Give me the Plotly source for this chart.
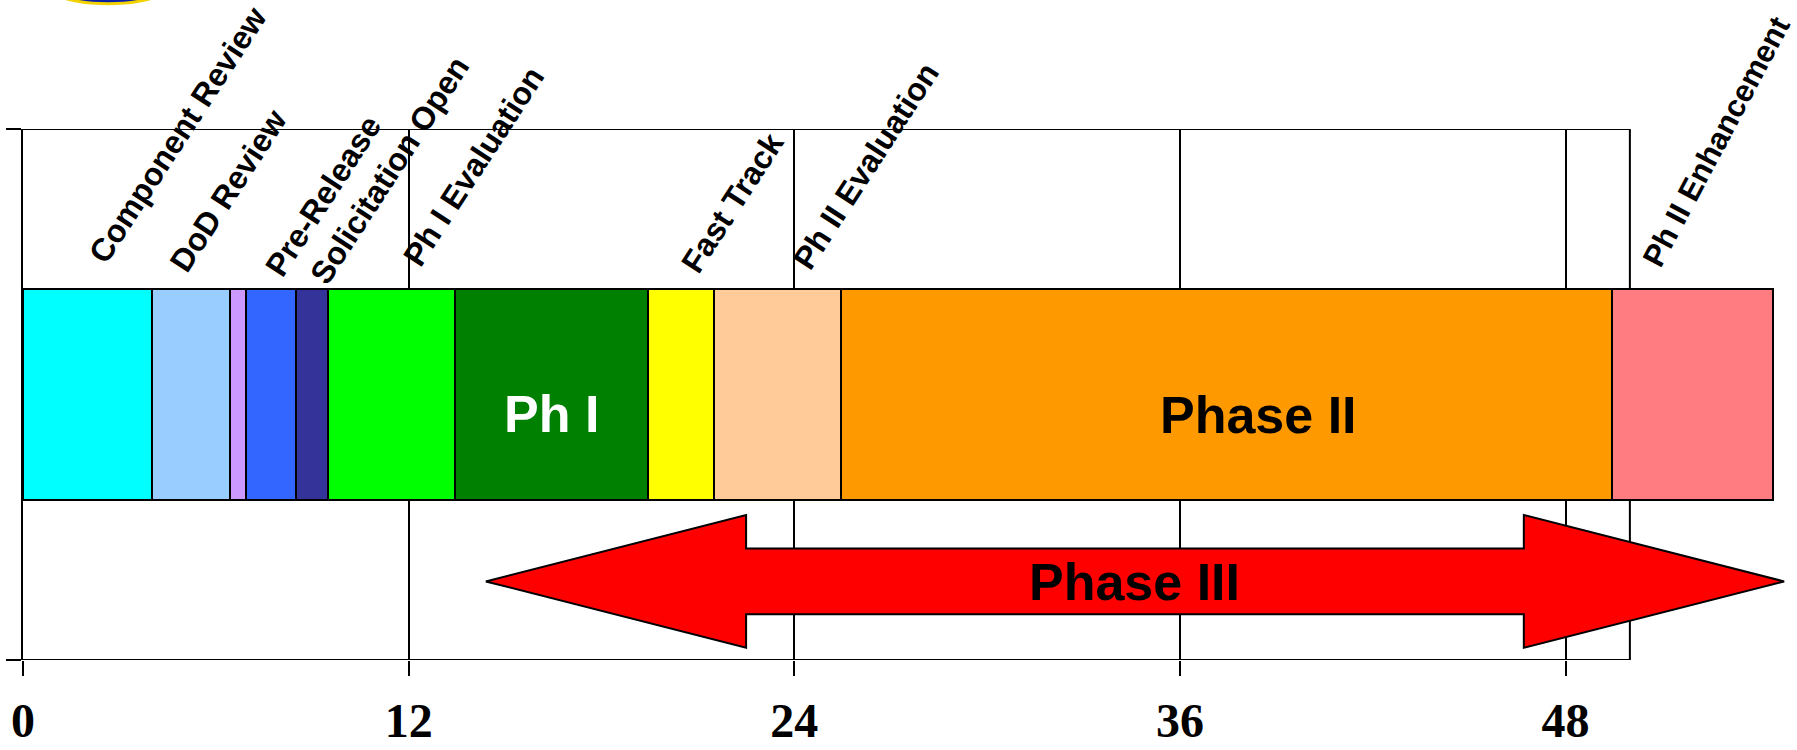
import plotly.graph_objects as go

# ---- data (months) ----
segment_names = ["Component Review", "DoD Review", "Gap", "Pre-Release",
                 "Solicitation Open", "Ph I Evaluation", "Ph I", "Fast Track",
                 "Ph II Evaluation", "Phase II", "Ph II Enhancement"]
segment_bounds = [0, 4.0, 6.45, 6.95, 8.5, 9.5, 13.45, 19.45, 21.5, 25.45, 49.45, 54.45]
segment_colors = ["#00FFFF", "#99CCFF", "#CC99FF", "#3366FF", "#333399", "#00FF00",
                  "#008000", "#FFFF00", "#FFCC99", "#FF9900", "#FF7C80"]

milestone_labels = ["Component Review", "DoD Review",
                    "Pre-Release<br>\u00a0\u00a0Solicitation Open",
                    "Ph I Evaluation", "Fast Track", "Ph II Evaluation", "Ph II Enhancement"]

phase3_span = [14.4, 54.8]
timeline_end = 50
tick_vals = [0, 12, 24, 36, 48]
tick_text = ["0", "12", "24", "36", "48"]

# ---- layout helpers (positions / styles) ----
milestone_x = [4.81, 6.38, 10.73, 14.03, 22.09, 26.23, 52.7]
milestone_y = [0.989, 0.883, 0.930, 0.930, 0.862, 0.930, 0.976]
milestone_angle = [-57, -57, -57, -57, -57, -57, -62]
milestone_size = [32, 32, 32, 32, 32, 32, 31]

bar_center, bar_width = 0.5, 0.398
arrow_c, arrow_head_h, arrow_shaft_h, arrow_head_len = 0.148, 0.125, 0.062, 8.1
x_view_max = 55.2

fig = go.Figure()

# bar segments
starts = segment_bounds[:-1]
lengths = [segment_bounds[i + 1] - segment_bounds[i] for i in range(len(starts))]
fig.add_trace(go.Bar(
    y=[bar_center] * len(starts), x=lengths, base=starts, orientation="h",
    width=bar_width, marker=dict(color=segment_colors, line=dict(color="black", width=2)),
    text=segment_names, textposition="none", hoverinfo="text",
    showlegend=False))

# Phase III double arrow
a, b = phase3_span
h = arrow_head_len
c, H, s = arrow_c, arrow_head_h, arrow_shaft_h
ax = [a, a + h, a + h, b - h, b - h, b, b - h, b - h, a + h, a + h, a]
ay = [c, c + H, c + s, c + s, c + H, c, c - H, c - s, c - s, c - H, c]
fig.add_trace(go.Scatter(x=ax, y=ay, mode="lines", fill="toself", fillcolor="#FF0000",
                         line=dict(color="black", width=2),
                         hoverinfo="skip", showlegend=False))

annos = []
for lab, x, y, ang, sz in zip(milestone_labels, milestone_x, milestone_y,
                              milestone_angle, milestone_size):
    annos.append(dict(x=x, y=y, xref="x", yref="y", text=lab, showarrow=False,
                      textangle=ang, xanchor="center", yanchor="middle", align="left",
                      font=dict(family="Liberation Sans, Arial, sans-serif", size=sz,
                                color="black", weight="bold")))

inner = [("Ph I", 16.45, 0.463, "white"), ("Phase II", 38.45, 0.461, "black"),
         ("Phase III", 34.57, 0.146, "black")]
for t, x, y, col in inner:
    annos.append(dict(x=x, y=y, xref="x", yref="y", text=t, showarrow=False,
                      xanchor="center", yanchor="middle",
                      font=dict(family="Liberation Sans, Arial, sans-serif", size=52,
                                color=col, weight="bold")))

# plot frame ending at the timeline end (month 50)
frame = [
    dict(type="line", xref="x", yref="y", x0=0, x1=timeline_end, y0=0, y1=0),
    dict(type="line", xref="x", yref="y", x0=0, x1=timeline_end, y0=1, y1=1),
    dict(type="line", xref="x", yref="y", x0=timeline_end, x1=timeline_end, y0=0, y1=1),
]
shapes = [dict(**f, line=dict(color="black", width=2), layer="below") for f in frame]
# sliver of the logo at the top-left corner
shapes.append(dict(type="circle", xref="paper", yref="paper",
                   x0=0.012, x1=0.084, y0=1.236, y1=1.3113,
                   fillcolor="#0A1FA8", line=dict(color="#F2D200", width=3), layer="below"))

fig.update_layout(
    width=1797, height=750,
    margin=dict(l=23, r=0, t=129, b=90, autoexpand=False),
    paper_bgcolor="white", plot_bgcolor="white",
    annotations=annos, shapes=shapes,
    bargap=0,
)
fig.update_xaxes(range=[0, x_view_max], tickvals=tick_vals, ticktext=tick_text,
                 ticks="outside", ticklen=15, tickwidth=2, tickcolor="black",
                 showline=False, showgrid=True, gridcolor="black", gridwidth=1.5,
                 zeroline=False, layer="below traces", ticklabelstandoff=3,
                 automargin=False,
                 tickfont=dict(family="Liberation Serif, Times New Roman, serif", size=48,
                               color="black", weight="bold"))
fig.update_yaxes(range=[0, 1], tickvals=[0, 1], ticks="outside", ticklen=15, tickwidth=2,
                 tickcolor="black", showticklabels=False, showline=True, linecolor="black",
                 linewidth=2, mirror=False, showgrid=False, zeroline=False,
                 layer="below traces", automargin=False)

# remove the browser's default 8px page margin so the figure fills the window exactly
fig.write_html("out.html", config={"displayModeBar": False},
               post_script="document.body.style.margin='0';document.body.style.overflow='hidden';")
